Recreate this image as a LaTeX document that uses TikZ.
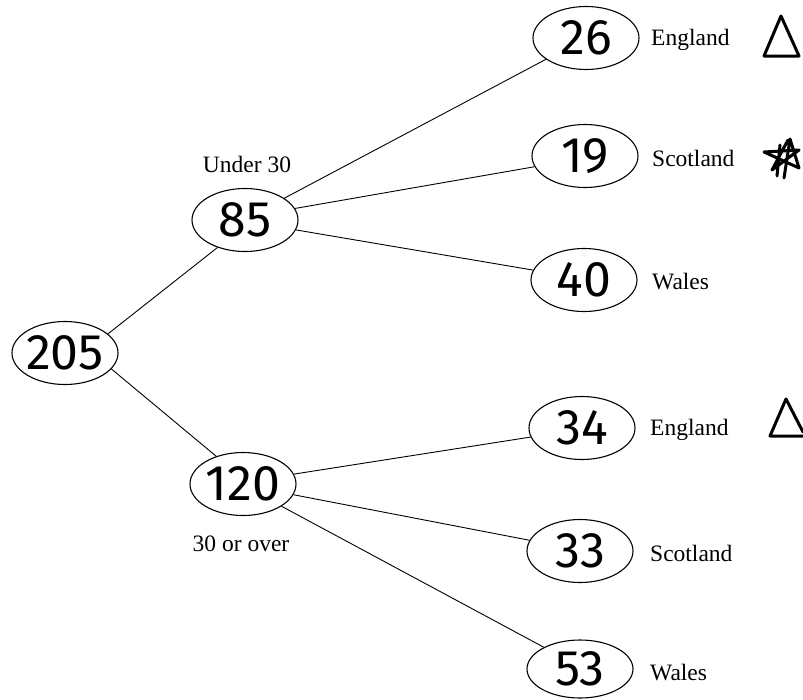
\documentclass[tikz,border=0pt]{standalone}
\usepackage{fontspec}
\setmainfont{Liberation Serif}
\newfontfamily\hand{Fira Sans}
\usetikzlibrary{shapes.geometric}
\begin{document}
\begin{tikzpicture}[x=1pt,y=-1pt,
  count/.style={draw,ellipse,line width=1.1pt,inner sep=0pt,
    minimum width=106pt,minimum height=63pt,
    font=\hand\fontsize{50}{50}\selectfont},
  branch/.style={line width=0.9pt},
  place/.style={anchor=west,inner sep=0pt,font=\fontsize{23.5}{23.5}\selectfont},
  group/.style={inner sep=0pt,font=\fontsize{23.5}{23.5}\selectfont},
  penmark/.style={line width=3pt,line join=round,line cap=round}]
\useasboundingbox (0,0) rectangle (803,699);

% tree of counts
\node[count] (all) at (65,353) {\makebox[0pt]{205}};
\node[count] (young) at (245,220) {\makebox[0pt]{85}};
\node[count] (old) at (243,484) {\makebox[0pt]{120}};

\node[count] (ye) at (586,38) {\makebox[0pt]{26}};
\node[count] (ys) at (585,156) {\makebox[0pt]{19}};
\node[count] (yw) at (584,280) {\makebox[0pt]{40}};

\node[count] (oe) at (582,428) {\makebox[0pt]{34}};
\node[count] (os) at (580,551) {\makebox[0pt]{33}};
\node[count,minimum height=58pt] (ow) at (580,669) {\makebox[0pt]{\raisebox{1pt}{53}}};

\draw[branch] (all.24) -- (young.225);
\draw[branch] (all.-19) -- (old.134);
\draw[branch] (young.29) -- (ye.208);
\draw[branch] (young.13) -- (ys.192);
\draw[branch] (young.-11) -- (yw.169);
\draw[branch] (old.11) -- (oe.190);
\draw[branch] (old.-12) -- (os.168);
\draw[branch] (old.-30) -- (ow.149);

% group captions
\node[group] (under) at (247,164) {Under 30};
\node[group] (over) at (241,544) {30 or over};

% country names
\node[place] (t1) at (651,40) {England};
\node[place] (t2) at (652,158) {Scotland};
\node[place] (t3) at (652,282) {Wales};
\node[place] (t4) at (650,430) {England};
\node[place] (t5) at (650,553) {Scotland};
\node[place] (t6) at (650,673) {Wales};

% pen marks
\draw[penmark] (781,16) -- (764,56) -- (799,56) -- cycle;
\draw[penmark] (786,399) -- (770,436) -- (803,436);
\draw[penmark] (786,399) -- (803,432);
\draw[penmark] (790,139) -- (784,178) (790,139) -- (799,168) -- (764,152) -- (799,150) -- (772,170) -- (788,140)
  (780,145) -- (777,176);
\end{tikzpicture}
\end{document}
